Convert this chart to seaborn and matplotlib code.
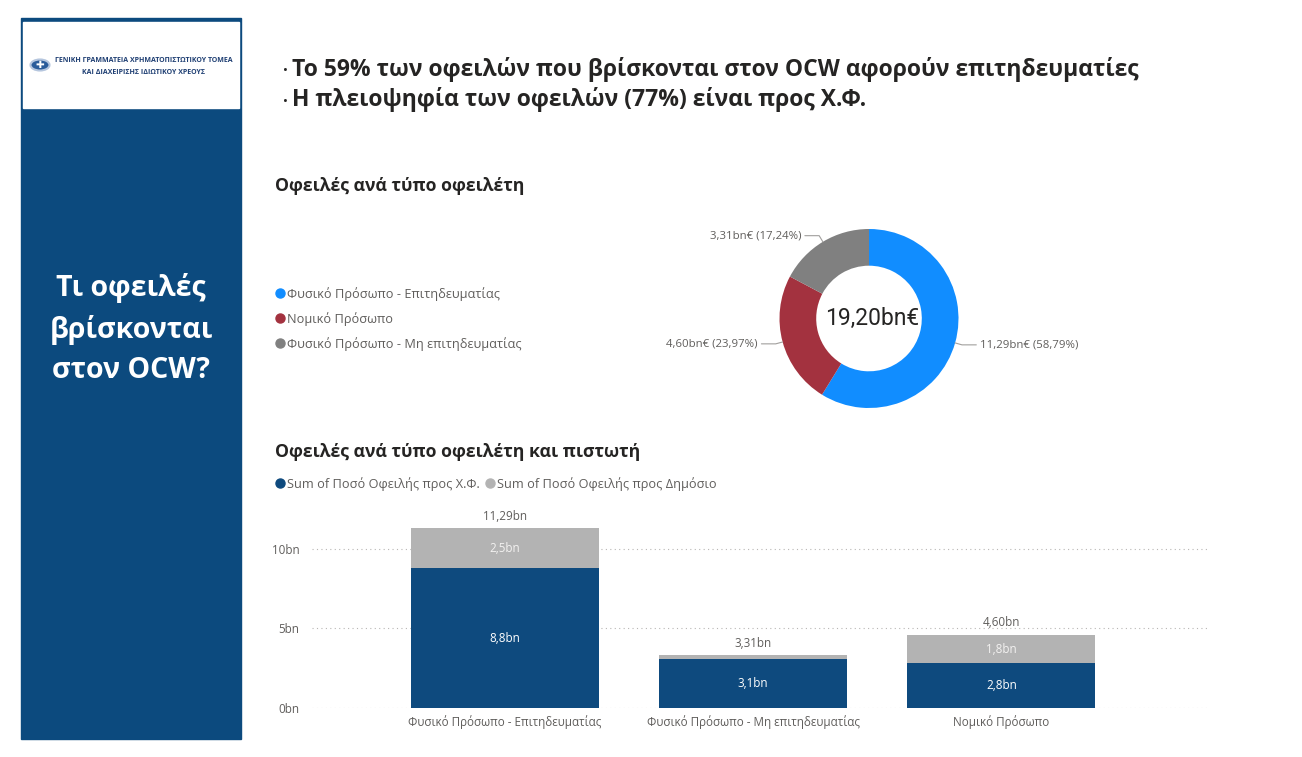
import matplotlib
matplotlib.use("Agg")
import numpy as np
import pandas as pd
import matplotlib.pyplot as plt
import seaborn as sns
from matplotlib.patches import Rectangle, Circle
from matplotlib.lines import Line2D

# ── data ──
donut_labels = ["Φυσικό Πρόσωπο - Επιτηδευματίας", "Νομικό Πρόσωπο",
                "Φυσικό Πρόσωπο - Μη επιτηδευματίας"]
donut_values = [11.288, 4.602, 3.310]
donut_colors = ["#118DFF", "#A3323F", "#808080"]

bar_categories = ["Φυσικό Πρόσωπο - Επιτηδευματίας",
                  "Φυσικό Πρόσωπο - Μη επιτηδευματίας", "Νομικό Πρόσωπο"]
debt_xf = [8.79, 3.10, 2.80]
debt_public = [2.50, 0.21, 1.80]
series_names = ["Sum of Ποσό Οφειλής προς Χ.Φ.", "Sum of Ποσό Οφειλής προς Δημόσιο"]
series_colors = ["#0E4A7E", "#B3B3B3"]
y_ticks = [0, 5, 10]

headline = ["Το 59% των οφειλών που βρίσκονται στον OCW αφορούν επιτηδευματίες",
            "Η πλειοψηφία των οφειλών (77%) είναι προς Χ.Φ."]
panel_title = ["Τι οφειλές", "βρίσκονται", "στον OCW?"]

W, H = 1302, 757
TXT = "#252423"
SUB = "#605E5C"

sns.set_theme(style="white")
plt.rcParams["font.family"] = ["Open Sans", "DejaVu Sans"]


def fx(x):
    return x / W


def fy(y):
    return 1 - y / H


def num(v, d):
    return f"{v:.{d}f}".replace(".", ",")


fig = plt.figure(figsize=(W / 100, H / 100), dpi=100)
fig.patch.set_facecolor("white")

# ── left panel ──
fig.patches.append(Rectangle((fx(21), fy(739)), fx(220), 721 / H,
                             transform=fig.transFigure, color="#0C4A7E", zorder=0))
fig.patches.append(Rectangle((fx(23), fy(108)), fx(216), 86 / H,
                             transform=fig.transFigure, color="white", zorder=1))
fig.patches.append(Circle((fx(40), fy(65)), 9.5 / W, transform=fig.transFigure,
                          facecolor="#2A5C9A", edgecolor="#B5C6DE", lw=1.5, zorder=2))
fig.text(fx(40), fy(65), "✚", color="white", fontsize=7.5, ha="center", va="center",
         family="DejaVu Sans", zorder=3)
fig.text(fx(143.5), fy(61), "ΓΕΝΙΚΗ ΓΡΑΜΜΑΤΕΙΑ ΧΡΗΜΑΤΟΠΙΣΤΩΤΙΚΟΥ ΤΟΜΕΑ", color="#1F3F73",
         fontsize=5.0, fontweight="bold", ha="center", va="center", zorder=3)
fig.text(fx(143.5), fy(72), "ΚΑΙ ΔΙΑΧΕΙΡΙΣΗΣ ΙΔΙΩΤΙΚΟΥ ΧΡΕΟΥΣ", color="#1F3F73",
         fontsize=5.0, fontweight="bold", ha="center", va="center", zorder=3)
for i, line in enumerate(panel_title):
    fig.text(fx(131), fy(288 + 41.5 * i), line, color="white", fontsize=20.5,
             fontweight="bold", ha="center", va="center")

# ── headline ──
for i, line in enumerate(headline):
    fig.text(fx(283), fy(71 + 31 * i), "·", color=TXT, fontsize=12,
             fontweight="bold", ha="left", va="center")
    fig.text(fx(292), fy(69 + 31 * i), line, color=TXT, fontsize=16.5,
             fontweight="bold", ha="left", va="center")

fig.text(fx(275), fy(186), "Οφειλές ανά τύπο οφειλέτη", color=TXT, fontsize=12.7,
         fontweight="bold", ha="left", va="center")
fig.text(fx(275), fy(452), "Οφειλές ανά τύπο οφειλέτη και πιστωτή", color=TXT,
         fontsize=12.7, fontweight="bold", ha="left", va="center")

# ── donut ──
R = 89.5
axd = fig.add_axes([fx(869 - R), fy(318.5 + R), 2 * R / W, 2 * R / H])
wedges, _ = axd.pie(donut_values, colors=donut_colors, startangle=90, counterclock=False,
                    radius=1, wedgeprops=dict(width=0.41, linewidth=0))
axd.set_xlim(-1, 1)
axd.set_ylim(-1, 1)
axd.set_aspect("equal")
axd.axis("off")
total = sum(donut_values)
axd.text(0.03, 0, num(total, 2) + "bn€", ha="center", va="center", fontsize=16.5,
         color=TXT, family=["Roboto", "DejaVu Sans"])
for w, v in zip(wedges, donut_values):
    ang = np.deg2rad((w.theta1 + w.theta2) / 2)
    cx, cy = np.cos(ang), np.sin(ang)
    s = 1 if cx >= 0 else -1
    x2, y2 = 1.08 * cx, 1.08 * cy
    x3 = x2 + s * 0.16
    axd.plot([cx, x2, x3], [cy, y2, y2], color="#A19F9D", lw=0.8, clip_on=False)
    axd.text(x3 + s * 0.04, y2, f"{num(v, 2)}bn€ ({num(v / total * 100, 2)}%)",
             ha="left" if s > 0 else "right", va="center", fontsize=8.2, color=SUB)

donut_handles = [Line2D([], [], marker="o", linestyle="", color=c, markersize=6.5)
                 for c in donut_colors]
fig.legend(donut_handles, donut_labels, loc="upper left",
           bbox_to_anchor=(fx(274), fy(287)), frameon=False, fontsize=9.2,
           handletextpad=0.05, labelspacing=0.86, labelcolor=SUB, handlelength=1.0,
           borderpad=0, borderaxespad=0)

# ── stacked bars ──
df = pd.DataFrame({"category": bar_categories, "xf": debt_xf, "public": debt_public})
df["total"] = df["xf"] + df["public"]

axb = fig.add_axes([fx(312), fy(708), (1207 - 312) / W, 198 / H])
sns.barplot(data=df, x="category", y="total", color=series_colors[1], width=0.758,
            saturation=1, errorbar=None, linewidth=0, ax=axb, zorder=3)
sns.barplot(data=df, x="category", y="xf", color=series_colors[0], width=0.758,
            saturation=1, errorbar=None, linewidth=0, ax=axb, zorder=3)
axb.set_xlim(-0.778, 2.829)
axb.set_ylim(0, 12.45)
axb.set_yticks(y_ticks)
axb.set_yticklabels([f"{t}bn" for t in y_ticks])
axb.set_xlabel("")
axb.set_ylabel("")
for sp in axb.spines.values():
    sp.set_visible(False)
axb.yaxis.grid(True, linestyle=(0, (1, 3)), color="#B8B6B4", linewidth=0.8, zorder=0)
axb.tick_params(axis="both", length=0, labelsize=8.4, labelcolor=SUB)
axb.tick_params(axis="y", pad=9)
axb.tick_params(axis="x", pad=5)

for i, row in df.iterrows():
    axb.text(i, row["total"] + 0.75, f"{num(row['total'], 2)}bn", ha="center",
             va="center", fontsize=8.4, color=SUB)
    axb.text(i, row["xf"] / 2, f"{num(row['xf'], 1)}bn", ha="center", va="center",
             fontsize=8.4, color="white", zorder=5)
    if row["public"] > 0.5:
        axb.text(i, row["xf"] + row["public"] / 2, f"{num(row['public'], 1)}bn",
                 ha="center", va="center", fontsize=8.4, color="#F3F2F1", zorder=5)

bar_handles = [Line2D([], [], marker="o", linestyle="", color=c, markersize=6.5)
               for c in series_colors]
fig.legend(bar_handles, series_names, loc="center left",
           bbox_to_anchor=(fx(274), fy(484)), frameon=False, fontsize=9.2, ncol=2,
           handletextpad=0.05, columnspacing=0.3, labelcolor=SUB, handlelength=1.0,
           borderpad=0, borderaxespad=0)

fig.savefig("out.png", dpi=100, facecolor="white")
plt.close(fig)
